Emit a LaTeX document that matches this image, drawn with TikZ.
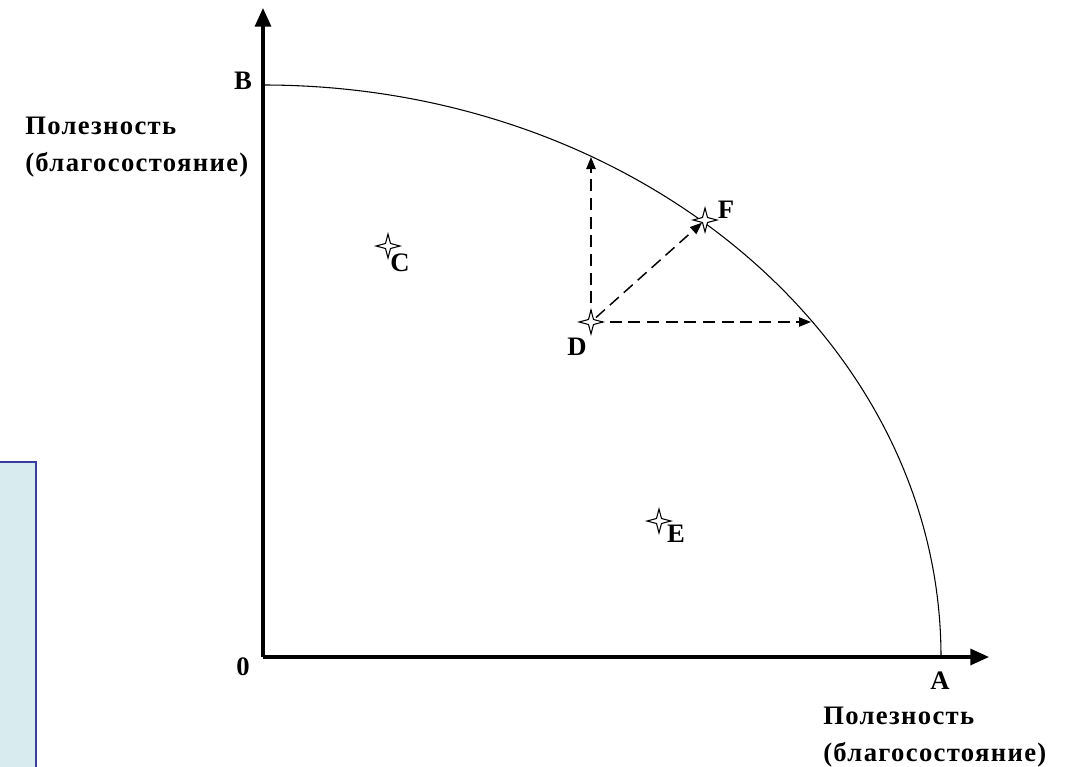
\documentclass[tikz,border=0pt]{standalone}
\usepackage{fontspec}
\setmainfont{Liberation Serif}
\usetikzlibrary{arrows.meta}
\definecolor{panelfill}{RGB}{216,235,239}
\definecolor{panelline}{RGB}{60,60,160}

\begin{document}
\begin{tikzpicture}[x=0.75pt, y=-0.75pt,
  every node/.style={font=\fontsize{20}{27.5}\selectfont\bfseries, inner sep=0pt},
  axis/.style={line width=2.4pt, -{Triangle[length=14pt, width=12pt]}},
  curve/.style={line width=0.8pt},
  arr/.style={line width=1.1pt, dash pattern=on 9pt off 5pt,
    -{Triangle[length=9pt, width=7pt]}},
  sign/.style={font=\fontsize{20}{24}\selectfont\bfseries},
  utility/.style={align=left, anchor=west,
    font=\fontsize{20}{27.5}\selectfont\bfseries\addfontfeatures{LetterSpace=5}},
  panel/.style={draw=panelline, fill=panelfill, line width=0.9pt}
]
\useasboundingbox (0,0) rectangle (1071,767);
% side panel
\draw[panel] (-5,462) rectangle (36,775);

% axes
\coordinate (O) at (263,657);
\draw[axis] (O) -- (263,8);
\draw[axis] (O) -- (989,657);

% frontier
\draw[curve] (263,85) arc[start angle=90, end angle=0, x radius=678, y radius=-572];

% points
\coordinate (C) at (388,246);
\coordinate (D) at (591,322);
\coordinate (E) at (659,521);
\coordinate (F) at (705,220);
\coordinate (Dup) at (591,157);
\coordinate (Dright) at (811,322);

\draw[arr] (D) -- (Dup);
\draw[arr] (D) -- (Dright);
\draw[arr, shorten <=5pt, shorten >=3pt] (D) -- (F);

\foreach \p in {C,D,E,F}
  \draw[line width=0.8pt, fill=white, shift={(\p)}]
    (0,-12) -- (2.5,-2.5) -- (12,0) -- (2.5,2.5) -- (0,12)
    -- (-2.5,2.5) -- (-12,0) -- (-2.5,-2.5) -- cycle;

% labels
\node[sign] (lB) at (243,81) {B};
\node[sign] (l0) at (243,667) {0};
\node[sign] (lA) at (940,681) {A};
\node[sign] (lC) at (400,263) {C};
\node[sign] (lD) at (577,347) {D};
\node[sign] (lE) at (676,534) {E};
\node[sign] (lF) at (726,210) {F};
\node[utility] (uy) at (25,147) {Полезность\\(благосостояние)};
\node[utility] (ux) at (823,737) {Полезность\\(благосостояние)};
\end{tikzpicture}
\end{document}
